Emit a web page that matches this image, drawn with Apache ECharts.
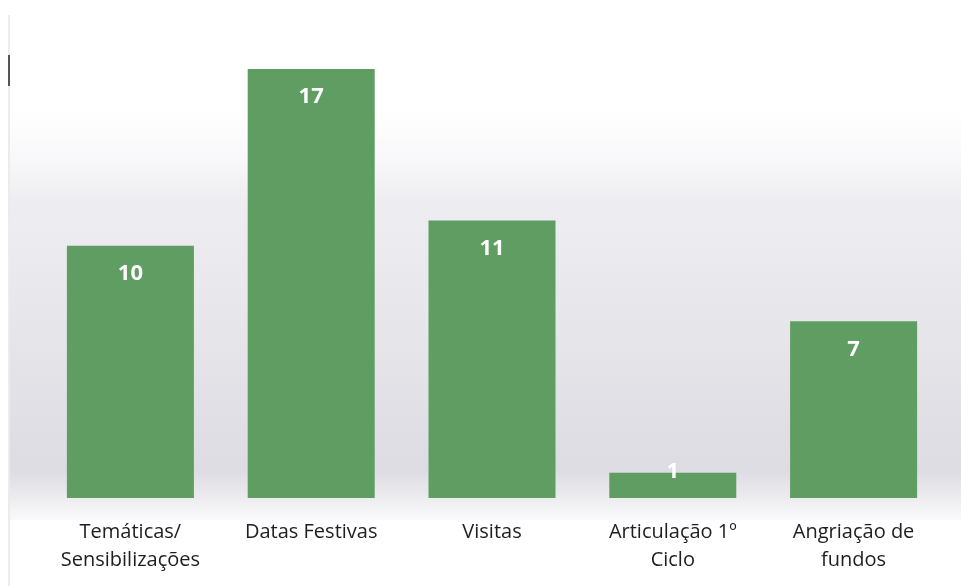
<!DOCTYPE html>
<html>
<head>
<meta charset="utf-8">
<script src="https://cdn.jsdelivr.net/npm/echarts@6/dist/echarts.min.js"></script>
<style>
  html, body { margin: 0; padding: 0; background: #fff; }
  #chart { width: 961px; height: 586px; }
</style>
</head>
<body>
<div id="chart"></div>
<script>
// dados
const categorias = ['Temáticas/\nSensibilizações', 'Datas Festivas', 'Visitas', 'Articulação 1º\nCiclo', 'Angriação de\nfundos'];
const valores = [10, 17, 11, 1, 7];

const chart = echarts.init(document.getElementById('chart'));

// barras pequenas: o rótulo fica por cima (como no Excel)
const dados = valores.map(function (v) {
    if (v < 2) {
        return { value: v, label: { position: 'top', distance: -10 } };
    }
    return v;
});

const option = {
    backgroundColor: '#ffffff',
    animation: false,
    graphic: [
        {
            type: 'rect',
            z: -10,
            shape: { x: 10, y: 110, width: 951, height: 410 },
            style: {
                fill: new echarts.graphic.LinearGradient(0, 0, 0, 1, [
                    { offset: 0, color: '#ffffff' },
                    { offset: 0.12, color: '#f8f8fa' },
                    { offset: 0.22, color: '#eeeef2' },
                    { offset: 0.88, color: '#dcdce2' },
                    { offset: 1, color: '#fafafb' }
                ])
            }
        },
        {
            type: 'line',
            shape: { x1: 9, y1: 15, x2: 9, y2: 586 },
            style: { stroke: '#d8d8d8', lineWidth: 1 }
        },
        {
            type: 'line',
            shape: { x1: 9, y1: 55, x2: 9, y2: 86 },
            style: { stroke: '#555', lineWidth: 2 }
        }
    ],
    grid: { left: 40, right: 17, top: 69, bottom: 88 },
    xAxis: {
        type: 'category',
        data: categorias,
        axisLine: { show: false },
        axisTick: { show: false },
        axisLabel: {
            interval: 0,
            margin: 20,
            color: '#1e1e1e',
            fontFamily: 'Open Sans',
            fontSize: 20,
            lineHeight: 28
        }
    },
    yAxis: {
        type: 'value',
        min: 0,
        max: 17,
        show: false,
        splitLine: { show: false }
    },
    series: [{
        type: 'bar',
        data: dados,
        barWidth: 127,
        itemStyle: { color: '#5f9d62' },
        label: {
            show: true,
            position: 'insideTop',
            distance: 17,
            color: '#fff',
            fontWeight: 'bold',
            fontFamily: 'Open Sans',
            fontSize: 22
        }
    }]
};

chart.setOption(option);
window.addEventListener('resize', function () { chart.resize(); });
</script>
</body>
</html>
